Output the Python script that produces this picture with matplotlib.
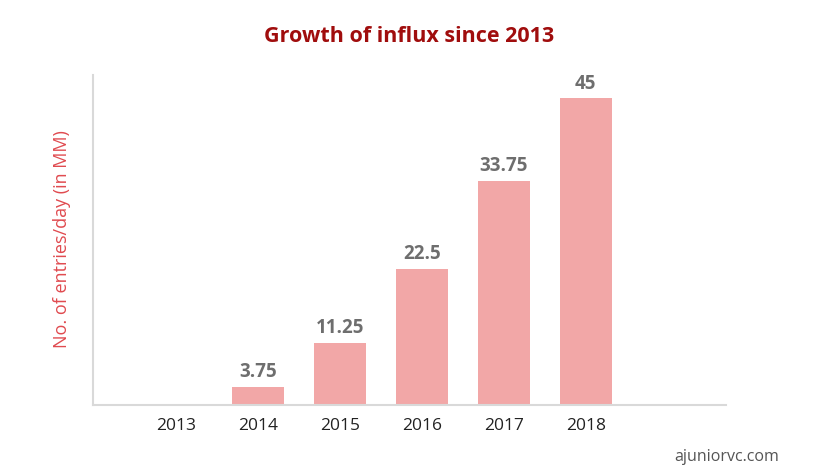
import matplotlib
matplotlib.use('Agg')
import matplotlib.pyplot as plt
import numpy as np

years = ['2013', '2014', '2015', '2016', '2017', '2018']
# bar heights as drawn in the picture (they are not to scale with the labels)
entries = [0, 2.65, 9.1, 20.0, 32.95, 45]
labels = ['', '3.75', '11.25', '22.5', '33.75', '45']

plt.rcParams['font.family'] = ['Open Sans', 'DejaVu Sans']

fig = plt.figure(figsize=(8.18, 4.76), dpi=100)
ax = fig.add_axes([0.1137, 0.149, 0.7738, 0.693])

ind = np.arange(len(years))
rects = ax.bar(ind, entries, 0.63, color='#f2a7a7')
for rect, lab in zip(rects, labels):
    if lab:
        ax.text(rect.get_x() + rect.get_width() / 2., rect.get_height() + 0.7, lab,
                ha='center', va='bottom', fontsize=13.5, fontweight='bold', color='#6e6e6e')

ax.set_xlim(-1.01, 6.71)
ax.set_ylim(0, 48.4)
ax.set_xticks(ind)
ax.set_xticklabels(years, fontsize=12.5, color='#222222')
ax.set_yticks([])
ax.tick_params(axis='x', length=0, pad=9)
for s in ['top', 'right']:
    ax.spines[s].set_visible(False)
for s in ['left', 'bottom']:
    ax.spines[s].set_color('#d9d9d9')
    ax.spines[s].set_linewidth(1.5)

ax.set_ylabel('No. of entries/day (in MM)', fontsize=13, color='#e04a4f')
ax.yaxis.set_label_coords(-0.034, 0.503)
fig.text(0.5, 0.924, 'Growth of influx since 2013', ha='center', va='center',
         fontsize=15.5, fontweight='bold', color='#a00d0d')
fig.text(0.953, 0.04, 'ajuniorvc.com', ha='right', va='center', fontsize=11.5, color='#555555')

plt.savefig('out.png', dpi=100)
